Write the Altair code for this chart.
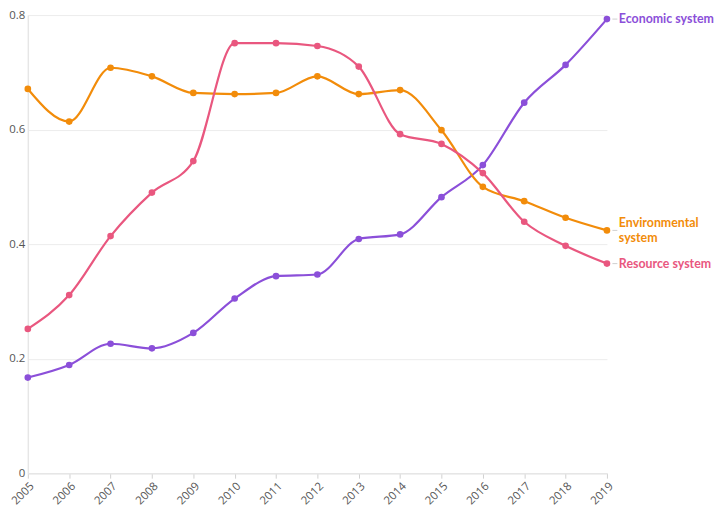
import altair as alt
import pandas as pd

years = list(range(2005, 2020))
economic = [0.167, 0.189, 0.226, 0.218, 0.245, 0.305, 0.344, 0.347, 0.409, 0.417, 0.482, 0.538, 0.647, 0.713, 0.793]
environmental = [0.671, 0.614, 0.708, 0.693, 0.664, 0.662, 0.664, 0.693, 0.662, 0.669, 0.599, 0.500, 0.475, 0.446, 0.424]
resource = [0.252, 0.311, 0.414, 0.490, 0.545, 0.751, 0.751, 0.746, 0.710, 0.592, 0.575, 0.524, 0.439, 0.397, 0.366]

series_names = ["Economic system", "Environmental system", "Resource system"]
series_labels = ["Economic system", "Environmental\nsystem", "Resource system"]
colors = ["#8b4fd9", "#f28c0a", "#e9577f"]

rows = []
for name, vals in zip(series_names, [economic, environmental, resource]):
    for y, v in zip(years, vals):
        rows.append({"year": y, "value": v, "series": name})
df = pd.DataFrame(rows)

end_df = pd.DataFrame({
    "year": [years[-1]] * 3,
    "value": [economic[-1], environmental[-1], resource[-1]],
    "series": series_names,
    "label": series_labels,
})
single_df = end_df[end_df["series"] != "Environmental system"]
multi_df = end_df[end_df["series"] == "Environmental system"]

color = alt.Color("series:N", scale=alt.Scale(domain=series_names, range=colors), legend=None)
x = alt.X("year:Q", scale=alt.Scale(domain=[2005, 2019], nice=False, zero=False),
          axis=alt.Axis(values=years, format="d", labelAngle=-45, title=None, grid=False,
                        domainColor="#e6e6e6", tickColor="#d0d0d0", tickSize=5,
                        labelColor="#555555", labelFont="Open Sans", labelFontSize=11.5,
                        labelPadding=2, domainWidth=1.5))
y = alt.Y("value:Q", scale=alt.Scale(domain=[0, 0.8], nice=False),
          axis=alt.Axis(values=[0, 0.2, 0.4, 0.6, 0.8], title=None, gridColor="#ececec",
                        domainColor="#e6e6e6", ticks=False, labelColor="#555555",
                        labelFont="Open Sans", labelFontSize=11.5, labelPadding=3,
                        format="~g", domainWidth=1.5))

lines = alt.Chart(df).mark_line(interpolate="monotone", strokeWidth=2.2).encode(x=x, y=y, color=color)
points = alt.Chart(df).mark_circle(size=45, opacity=1).encode(x="year:Q", y="value:Q", color=color)
dashes = alt.Chart(end_df).mark_tick(orient="horizontal", size=5, thickness=1, xOffset=8, color="#bbbbbb").encode(
    x="year:Q", y="value:Q")
labels = alt.Chart(single_df).mark_text(align="left", baseline="middle", dx=12, font="Lato",
                                        fontWeight="bold", fontSize=12.5).encode(
    x="year:Q", y="value:Q", text="label:N", color=color)
labels2 = alt.Chart(multi_df).mark_text(align="left", baseline="middle", dx=12, dy=-7, font="Lato",
                                        fontWeight="bold", fontSize=12.5, lineBreak="\n",
                                        lineHeight=14.5).encode(
    x="year:Q", y="value:Q", text="label:N", color=color)

chart = alt.layer(lines, points, dashes, labels, labels2).properties(
    width=584, height=462,
    padding={"left": 20, "top": 5, "right": 112, "bottom": 36},
    autosize=alt.AutoSizeParams(type="none"),
).configure_view(stroke=None)

chart.save("out.html", embed_options={"renderer": "svg", "actions": False})
